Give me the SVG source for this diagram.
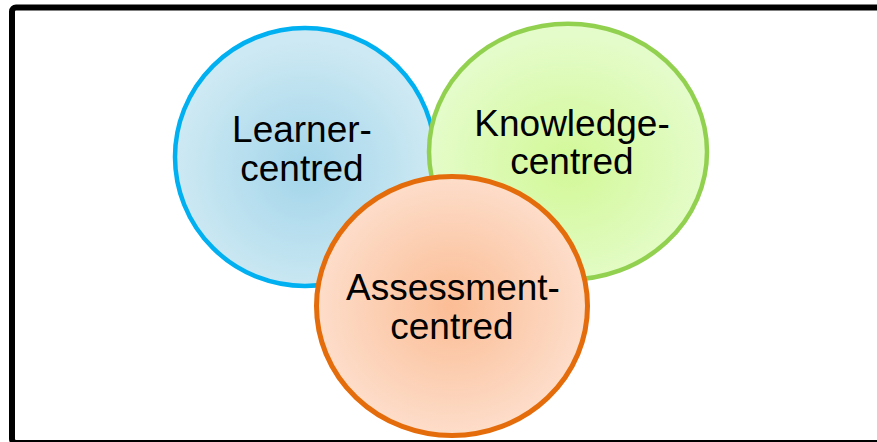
<svg xmlns="http://www.w3.org/2000/svg" width="877" height="442" viewBox="0 0 877 442">
<style>
.lbl{font-family:"Liberation Sans",Arial,sans-serif;font-size:37px;fill:#000;text-anchor:middle}
</style>
<defs>
<radialGradient id="gb" cx="0.5" cy="0.55" r="0.5">
<stop offset="0" stop-color="#A3D5EA"/>
<stop offset="1" stop-color="#CDE9F3"/>
</radialGradient>
<radialGradient id="gg" cx="0.5" cy="0.55" r="0.5">
<stop offset="0" stop-color="#D2F897"/>
<stop offset="1" stop-color="#E4FCC9"/>
</radialGradient>
<radialGradient id="go" cx="0.5" cy="0.5" r="0.5">
<stop offset="0" stop-color="#FBBD95"/>
<stop offset="1" stop-color="#FDDDCA"/>
</radialGradient>
</defs>
<rect x="0" y="0" width="877" height="442" fill="#fff"/>
<rect id="frame" x="12" y="7.5" width="880" height="435.5" rx="4" fill="none" stroke="#000" stroke-width="6"/>
<g id="connectors"></g>
<g id="learner">
<ellipse cx="305" cy="157" rx="130" ry="129" fill="url(#gb)" stroke="#00B0F0" stroke-width="4.5"/>
<text class="lbl" x="302" y="142">Learner-</text>
<text class="lbl" x="302" y="181">centred</text>
</g>
<g id="knowledge">
<ellipse cx="568" cy="151.7" rx="139" ry="128" fill="url(#gg)" stroke="#92D050" stroke-width="4.5"/>
<text class="lbl" x="572" y="136">Knowledge-</text>
<text class="lbl" x="572" y="174">centred</text>
</g>
<g id="assessment">
<ellipse cx="452" cy="306" rx="135.5" ry="129.5" fill="url(#go)" stroke="#E46C0A" stroke-width="5"/>
<text class="lbl" x="453" y="300">Assessment-</text>
<text class="lbl" x="452" y="339">centred</text>
</g>
</svg>
